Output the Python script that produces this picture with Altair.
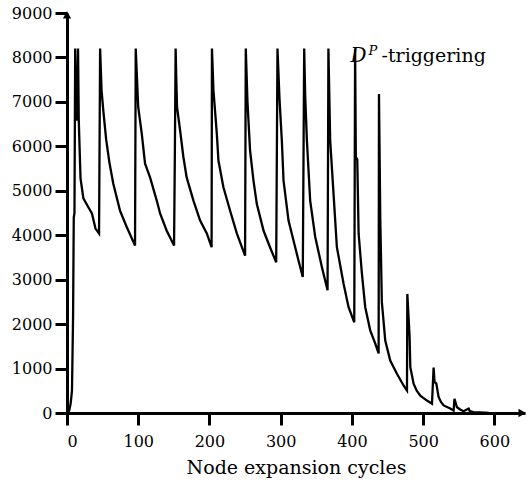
import altair as alt
import pandas as pd

# ---- data ----
cycles = [0, 3, 5, 7, 8.5, 9.5, 10.5, 11.5, 12.5, 13.5, 15.5, 16.5, 17.5, 19, 23, 30, 35, 40, 45,
          46.5, 48.5, 51, 55, 59.5, 65, 74.5, 84, 95.5,
          96, 96.5, 100, 105, 109.6, 116.6, 126, 130.7, 140, 150.3,
          151.5, 152.5, 153.5, 154.5, 158.8, 163.4, 168, 177.5, 186.9, 196.3, 203,
          203.5, 205.6, 210.3, 212.6, 219.6, 229, 238.4, 250,
          250.5, 251, 253.4, 257, 261.8, 266.5, 276, 285, 293.7,
          295.5, 298.3, 301.6, 304, 311, 318, 325, 331,
          333, 334.4, 336.8, 341.4, 348.5, 357.9, 365.8,
          367, 369.5, 373.3, 378.9, 388.3, 395.3, 403.3,
          404.5, 405.5, 407.5, 409.4, 414, 418.7, 425.7, 432.8, 437.5,
          438, 439.8, 442, 446.8, 453.8, 463, 472.5, 477.3,
          477.8, 481, 482, 486.6, 491, 496, 505.4, 512.4,
          514.7, 516, 518.5, 521.7, 525, 528.8, 538, 542.8,
          544, 547.5, 552, 556.8, 563.9, 565.5, 570.9, 580, 592]
nodes = [0, 50, 200, 500, 2150, 4400, 4500, 8200, 6600, 6600, 8200, 6600, 6060, 5280, 4830, 4630, 4490, 4150, 4040,
         8200, 7260, 6800, 6150, 5640, 5160, 4550, 4180, 3770,
         6000, 8200, 6880, 6280, 5610, 5300, 4780, 4490, 4100, 3770,
         5980, 8200, 7480, 6880, 6360, 5760, 5300, 4780, 4330, 4040, 3730,
         8200, 7260, 6290, 5680, 5080, 4550, 4040, 3540,
         5910, 8200, 6990, 5910, 5230, 4700, 4100, 3730, 3390,
         8200, 7080, 6130, 5230, 4330, 3880, 3430, 3060,
         8200, 7140, 6130, 4780, 3960, 3280, 2760,
         8200, 6130, 5160, 3730, 2910, 2380, 2040,
         8200, 5760, 5700, 4040, 3140, 2380, 1860, 1560, 1340,
         7180, 4400, 2500, 1630, 1180, 890, 620, 505,
         2680, 1710, 1030, 660, 500, 390, 280, 210,
         1020, 700, 660, 360, 250, 170, 100, 55,
         320, 130, 80, 40, 100, 40, 20, 15, 0]
x_ticks = [0, 100, 200, 300, 400, 500, 600]
y_ticks = [0, 1000, 2000, 3000, 4000, 5000, 6000, 7000, 8000, 9000]
x_title = "Node expansion cycles"
label_parts = ["D", "P", "-triggering"]
label_anchor = {"x": 398, "y": 7900}

FONT = "DejaVu Serif"

df = pd.DataFrame({"cycle": cycles, "nodes": nodes, "order": list(range(len(cycles)))})

xscale = alt.Scale(domain=[0, 643], nice=False, zero=False)
yscale = alt.Scale(domain=[0, 9000], nice=False)

axis_common = dict(
    domainColor="black", domainWidth=3, tickColor="black", tickWidth=3, tickSize=12,
    labelFont=FONT, labelFontSize=16, labelColor="black", grid=False, format="d",
)

line = alt.Chart(df).mark_line(color="black", strokeWidth=2.3, clip=False).encode(
    x=alt.X("cycle:Q", scale=xscale,
            axis=alt.Axis(values=x_ticks, title=x_title, labelPadding=8,
                          titleFont=FONT, titleFontSize=19, titleFontWeight="normal",
                          titleColor="black", titlePadding=9, **axis_common)),
    y=alt.Y("nodes:Q", scale=yscale,
            axis=alt.Axis(values=y_ticks, title=None, labelPadding=3, **axis_common)),
    order="order:Q",
)

arrow_x = alt.Chart(pd.DataFrame({"cycle": [639], "nodes": [0]})).mark_point(
    shape="triangle-right", filled=True, color="black", size=70, opacity=1, clip=False
).encode(x=alt.X("cycle:Q", scale=xscale), y=alt.Y("nodes:Q", scale=yscale))

arrow_y = alt.Chart(pd.DataFrame({"cycle": [0], "nodes": [8960]})).mark_point(
    shape="triangle-up", filled=True, color="black", size=70, opacity=1, clip=False
).encode(x=alt.X("cycle:Q", scale=xscale), y=alt.Y("nodes:Q", scale=yscale))

anchor = pd.DataFrame({"cycle": [label_anchor["x"]], "nodes": [label_anchor["y"]]})
base_txt = alt.Chart(anchor).encode(x=alt.X("cycle:Q", scale=xscale), y=alt.Y("nodes:Q", scale=yscale))
t_d = base_txt.mark_text(text=label_parts[0], font=FONT, fontSize=20, fontStyle="italic",
                         align="left", baseline="alphabetic", color="black")
t_p = base_txt.mark_text(text=label_parts[1], font=FONT, fontSize=13, fontStyle="italic",
                         align="left", baseline="alphabetic", color="black", dx=18, dy=-7)
t_rest = base_txt.mark_text(text=label_parts[2], font=FONT, fontSize=19,
                            align="left", baseline="alphabetic", color="black", dx=31)

chart = alt.layer(line, arrow_x, arrow_y, t_d, t_p, t_rest).properties(
    width=458, height=400,
    autosize=alt.AutoSizeParams(type="none"),
    padding={"left": 67, "top": 13, "right": 6, "bottom": 70},
    background="white",
).configure_view(stroke=None)

chart.save("out.html", embed_options={"renderer": "svg", "actions": False})
